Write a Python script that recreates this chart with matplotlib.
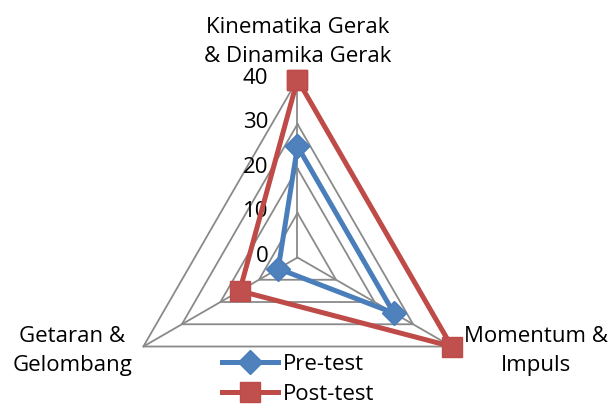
import numpy as np
import matplotlib
matplotlib.use('Agg')
import matplotlib.pyplot as plt
from matplotlib.lines import Line2D

# data
categories = ['Kinematika Gerak\n& Dinamika Gerak', 'Momentum &\nImpuls', 'Getaran &\nGelombang']
pre_test = [25, 25, 5]
post_test = [40, 40, 15]
ring_ticks = [0, 10, 20, 30, 40]
series_names = ['Pre-test', 'Post-test']

plt.rcParams['font.family'] = ['Open Sans', 'DejaVu Sans']
FS = 16
blue = '#4A7EBB'
red = '#BE4B48'
grid_col = '#8A8A8A'

fig = plt.figure(figsize=(6.11, 4.19), dpi=100)
ax = fig.add_axes([0.1956, -0.0394, 0.5826, 0.8496], projection='polar')
ax.set_theta_zero_location('N')
ax.set_theta_direction(-1)
ax.set_ylim(0, 40)
ax.grid(False)
ax.spines['polar'].set_visible(False)
ax.set_xticks([])
ax.set_yticks([])
ax.patch.set_alpha(0)

n = len(categories)
theta = np.linspace(0, 2 * np.pi, n, endpoint=False)
theta_c = np.append(theta, theta[0])

# triangular grid + spokes
for r in ring_ticks[1:]:
    ax.plot(theta_c, [r] * (n + 1), color=grid_col, lw=1.3, clip_on=False, zorder=1)
for t in theta:
    ax.plot([t, t], [0, ring_ticks[-1]], color=grid_col, lw=1.3, clip_on=False, zorder=1)

# tick labels on the vertical axis
for r in ring_ticks:
    ax.annotate(str(r), xy=(0, r), xytext=(-21, 1), textcoords='offset points',
                ha='right', va='center', fontsize=FS)

# series
ax.plot(theta_c, pre_test + pre_test[:1], color=blue, lw=3.6, marker='D', ms=12,
        mfc='#4F81BD', mec=blue, clip_on=False, zorder=3)
ax.plot(theta_c, post_test + post_test[:1], color=red, lw=3.6, marker='s', ms=15,
        mfc='#C0504D', mec=red, clip_on=False, zorder=4)

# category labels
offsets = [(0, 9), (61, -3), (-51, -3)]
vas = ['bottom', 'center', 'center']
for t, lab, off, va in zip(theta, categories, offsets, vas):
    ax.annotate(lab, xy=(t, 40), xytext=off, textcoords='offset points',
                ha='center', va=va, fontsize=FS, linespacing=1.5, multialignment='center')

handles = [
    Line2D([], [], color=blue, lw=3.6, marker='D', ms=12, mfc='#4F81BD', mec=blue),
    Line2D([], [], color=red, lw=3.6, marker='s', ms=15, mfc='#C0504D', mec=red),
]
fig.legend(handles, series_names, loc='upper left', bbox_to_anchor=(0.363, 0.155),
           frameon=False, fontsize=FS, handlelength=2.55, handletextpad=0.2,
           borderpad=0, borderaxespad=0, labelspacing=0.4)

fig.savefig('out.png', dpi=100)
